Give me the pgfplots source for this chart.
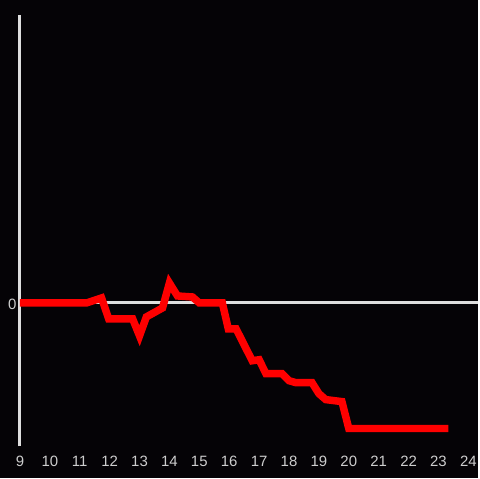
\documentclass[border=0pt]{standalone}
\usepackage{pgfplots}
\pgfplotsset{compat=1.18}
\usepackage{fontspec}
\setmainfont{Liberation Sans}
\definecolor{bg}{RGB}{5,3,6}
\definecolor{axgrey}{RGB}{222,222,222}
\definecolor{lblgrey}{RGB}{205,205,205}
\begin{document}
\begin{tikzpicture}[x=1bp,y=1bp]
\fill[bg] (0,0) rectangle (480,480);
\begin{axis}[
  at={(20bp,32bp)}, anchor=south west,
  scale only axis, width=460bp, height=433bp,
  xmin=9, xmax=24.3333, ymin=-144, ymax=289,
  clip=false,
  axis x line*=bottom, axis y line*=left,
  x axis line style={draw=none},
  y axis line style={draw=axgrey, line width=3bp, -},
  xtick={9,10,...,24}, ytick={0},
  major tick length=0pt,
  tick label style={font=\fontsize{15bp}{17bp}\selectfont, text=lblgrey},
  xticklabel style={yshift=-6bp},
  yticklabel style={xshift=0bp, yshift=-1bp},
  /pgf/number format/assume math mode=true,
]
\draw[axgrey, line width=3bp] (axis cs:9,0) -- (axis cs:24.3333,0);
\addplot[red, line width=7.5bp, line join=miter, line cap=butt] coordinates {
(9,0) (11.23,0) (11.73,5) (11.97,-16) (12.77,-16) (13.0,-33) (13.23,-14)
(13.77,-5) (14.0,20) (14.27,7) (14.77,6) (15.0,0) (15.77,0) (15.97,-26)
(16.23,-26) (16.77,-58) (17.0,-57) (17.23,-71) (17.77,-71) (18.0,-78)
(18.23,-80) (18.77,-80) (19.0,-91) (19.23,-97) (19.77,-99) (20.0,-126)
(23.33,-126)
};
\end{axis}
\end{tikzpicture}
\end{document}
